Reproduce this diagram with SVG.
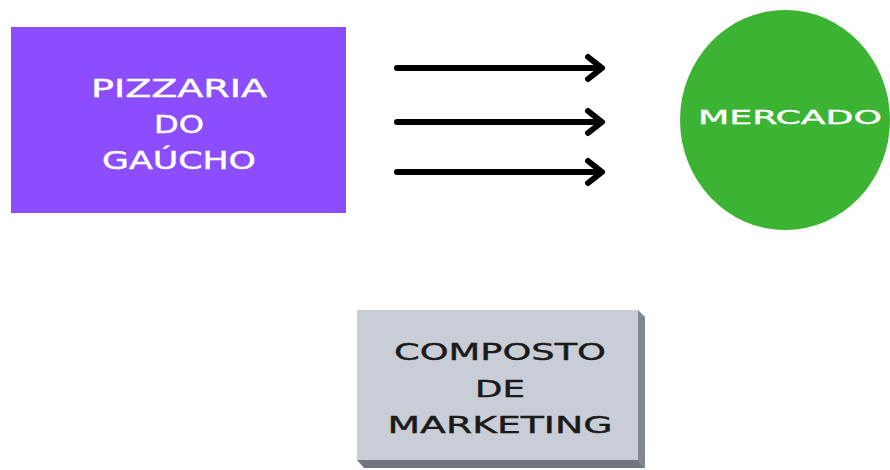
<svg xmlns="http://www.w3.org/2000/svg" width="890" height="470" viewBox="0 0 890 470">
<defs>
<style>
.t{font-family:"DejaVu Sans","Liberation Sans",Arial,sans-serif;font-weight:normal;text-anchor:middle}
.w{fill:#ffffff;stroke:#ffffff;stroke-width:0.4}
.k{fill:#1a1a1a;stroke:#1a1a1a;stroke-width:0.4}
.arr{stroke:#000;stroke-width:6;fill:none;stroke-linecap:round;stroke-linejoin:round}
</style>
</defs>
<rect width="890" height="470" fill="#ffffff"/>
<g id="pizzaria">
<rect x="11" y="27" width="335" height="186" fill="#8b4dfd"/>
<text class="t w" x="179" y="97" font-size="24" textLength="176" lengthAdjust="spacingAndGlyphs">PIZZARIA</text>
<text class="t w" x="179" y="133" font-size="24" textLength="50" lengthAdjust="spacingAndGlyphs">DO</text>
<text class="t w" x="179" y="169" font-size="24" textLength="154" lengthAdjust="spacingAndGlyphs">GAÚCHO</text>
</g>
<g id="mercado">
<ellipse cx="785" cy="120" rx="105" ry="110" fill="#3cb433"/>
<text class="t w" x="790" y="124" font-size="20" textLength="184" lengthAdjust="spacingAndGlyphs">MERCADO</text>
</g>
<g id="composto">
<polygon points="638,310 645,317 645,468 638,460" fill="#7f8791"/>
<polygon points="357,460 638,460 645,468 364,468" fill="#6f7680"/>
<rect x="357" y="310" width="281" height="150" fill="#c9cdd5"/>
<text class="t k" x="500" y="360" font-size="23" textLength="212" lengthAdjust="spacingAndGlyphs">COMPOSTO</text>
<text class="t k" x="500" y="397" font-size="23" textLength="50" lengthAdjust="spacingAndGlyphs">DE</text>
<text class="t k" x="500" y="433" font-size="23" textLength="225" lengthAdjust="spacingAndGlyphs">MARKETING</text>
</g>
<g id="connectors">
<path class="arr" d="M397,68 H601 M588,57 L602,68 L588,79"/>
<path class="arr" d="M397,122 H601 M588,111 L602,122 L588,133"/>
<path class="arr" d="M397,172 H601 M588,161 L602,172 L588,183"/>
</g>
</svg>
